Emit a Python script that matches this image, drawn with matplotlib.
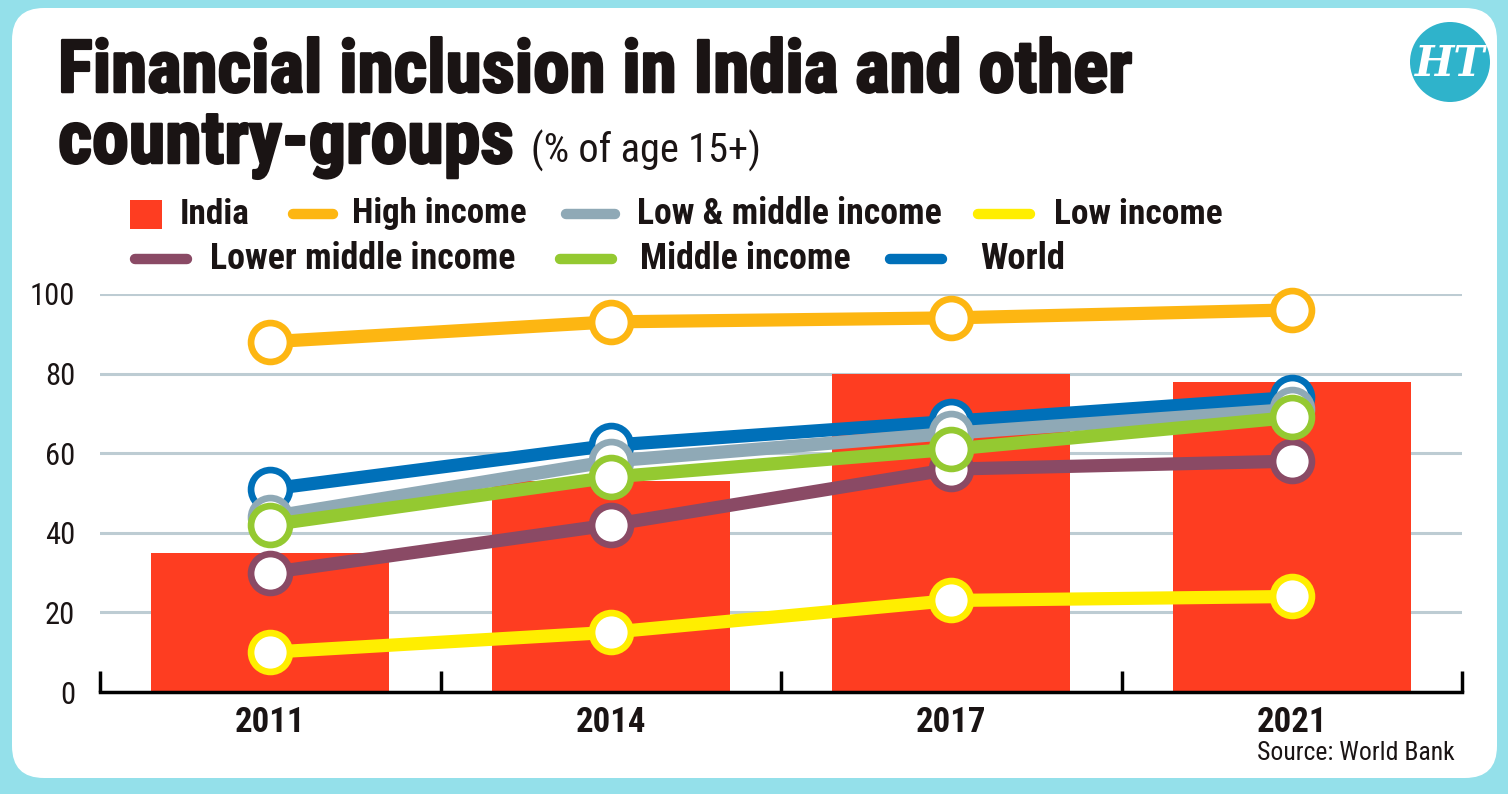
import matplotlib
matplotlib.use("Agg")
import matplotlib.pyplot as plt
import matplotlib.transforms as mtransforms
import matplotlib.patheffects as pe
from matplotlib import font_manager
from matplotlib.patches import FancyBboxPatch, Rectangle, Circle
from matplotlib.lines import Line2D
import numpy as np

# Data (% of age 15+ with an account)
years = ["2011", "2014", "2017", "2021"]
india = [35, 53, 80, 78]
high_income = [88, 93, 94, 96]
low_middle_income = [44, 58, 65, 71]
low_income = [10, 15, 23, 24]
lower_middle_income = [30, 42, 56, 58]
middle_income = [42, 54, 61, 69]
world = [51, 62, 68, 74]
y_ticks = [0, 20, 40, 60, 80, 100]

RED = "#FE3D21"
ORANGE = "#FDB612"
GREYBLUE = "#8FA9B6"
YELLOW = "#FFEE00"
PURPLE = "#8A4A65"
GREEN = "#94C931"
BLUE = "#0070B9"
GRID = "#BDCCD3"
CYAN = "#94E0EA"
TEXT = "#1A1414"


def pick_font(names):
    # first family that is really installed
    for n in names:
        try:
            font_manager.findfont(font_manager.FontProperties(family=n),
                                  fallback_to_default=False)
            return n
        except ValueError:
            continue
    return "DejaVu Sans"


FONT = pick_font(["Liberation Sans Narrow", "Roboto Condensed", "Open Sans Condensed",
                  "DejaVu Sans Condensed", "Roboto", "Lato"])
plt.rcParams["font.family"] = [FONT, "DejaVu Sans"]

W, H = 1508, 794
fig = plt.figure(figsize=(W / 100, H / 100), dpi=100)
fig.patch.set_facecolor(CYAN)
renderer = fig.canvas.get_renderer()

# pixel coordinates with origin at top-left
px = mtransforms.Affine2D().scale(0.01, -0.01).translate(0, H / 100) + fig.dpi_scale_trans


def fit(t, width):
    """ Scale the font of a text so it spans the given width in pixels. """
    w = t.get_window_extent(renderer).width
    t.set_fontsize(t.get_fontsize() * width / w)
    return t


panel = FancyBboxPatch((12, 8), 1485, 770, boxstyle="round,pad=0,rounding_size=32",
                       transform=px, facecolor="white", edgecolor="none", zorder=-5)
fig.patches.append(panel)

# titles (a thin stroke makes the bold look heavier, like the original)
heavy = [pe.withStroke(linewidth=1.8, foreground=TEXT)]
fit(fig.text(58, 92, "Financial inclusion in India and other", transform=px,
             fontsize=50, fontweight="bold", color=TEXT, va="baseline",
             path_effects=heavy), 1076)
fit(fig.text(58, 163, "country-groups", transform=px,
             fontsize=50, fontweight="bold", color=TEXT, va="baseline",
             path_effects=heavy), 456)
fit(fig.text(531, 163, "(% of age 15+)", transform=px,
             fontsize=26, color=TEXT, va="baseline"), 230)

# HT logo
fig.patches.append(Circle((1450, 62), 40, transform=px, facecolor="#2FB3CB",
                          edgecolor="none", zorder=1))
fig.text(1450, 64, "HT", transform=px, fontsize=30, fontweight="bold",
         fontstyle="italic", family=["DejaVu Serif"], color="white",
         ha="center", va="center", zorder=2)

# legend, drawn by hand in two rows
fig.patches.append(Rectangle((130, 200), 32, 29, transform=px, facecolor=RED,
                             edgecolor="none"))
fit(fig.text(180, 214, "India", transform=px, fontsize=23, fontweight="bold",
             color=TEXT, va="center"), 70)
legend_lines = [
    (293, 333, 214, ORANGE, "High income", 352, 176),
    (566, 615, 214, GREYBLUE, "Low & middle income", 637, 306),
    (978, 1030, 214, YELLOW, "Low income", 1054, 169),
    (135, 187, 259, PURPLE, "Lower middle income", 210, 307),
    (560, 612, 259, GREEN, "Middle income", 640, 211),
    (890, 942, 259, BLUE, "World", 980, 85),
]
for x0, x1, y, c, label, tx, tw in legend_lines:
    fig.lines.append(Line2D([x0, x1], [y, y], transform=px, color=c, lw=7.5,
                            solid_capstyle="round"))
    fit(fig.text(tx, y, label, transform=px, fontsize=23, fontweight="bold",
                 color=TEXT, va="center"), tw)

# main axes
ax = fig.add_axes([100 / W, 1 - 692 / H, 1362 / W, (692 - 294) / H])
ax.set_facecolor("none")
x = np.arange(len(years))

ax.bar(x, india, width=0.7, color=RED, zorder=2)

series = [
    (high_income, ORANGE),
    (low_income, YELLOW),
    (lower_middle_income, PURPLE),
    (world, BLUE),
    (low_middle_income, GREYBLUE),
    (middle_income, GREEN),
]
for i, (vals, c) in enumerate(series):
    ax.plot(x, vals, color=c, lw=9.5, marker="o", ms=28, mfc="white", mec=c,
            mew=4.8, solid_capstyle="butt", zorder=3 + i, clip_on=False)

ax.set_xlim(-0.5, 3.5)
ax.set_ylim(0, 100)
ax.set_yticks(y_ticks)
ax.set_yticklabels([str(v) for v in y_ticks], fontsize=22, color=TEXT)
ax.yaxis.grid(True, color=GRID, lw=2.2, zorder=1)
ax.set_axisbelow(True)
ax.tick_params(axis="y", length=0, pad=18)

ax.set_xticks(x)
ax.set_xticklabels(years, fontsize=25, fontweight="bold", color=TEXT)
ax.set_xticks([-0.5, 0.5, 1.5, 2.5, 3.5], minor=True)
ax.tick_params(axis="x", which="major", length=0, pad=10)
ax.tick_params(axis="x", which="minor", direction="in", length=15, width=2.5,
               color="black")
for s in ["top", "right", "left"]:
    ax.spines[s].set_visible(False)
ax.spines["bottom"].set_linewidth(2.5)
ax.spines["bottom"].set_color("black")
ax.spines["bottom"].set_zorder(10)

fit(fig.text(1455, 753, "Source: World Bank", transform=px, fontsize=19,
             color=TEXT, ha="right", va="center"), 198)

fig.savefig("out.png", dpi=100, facecolor=fig.get_facecolor())
